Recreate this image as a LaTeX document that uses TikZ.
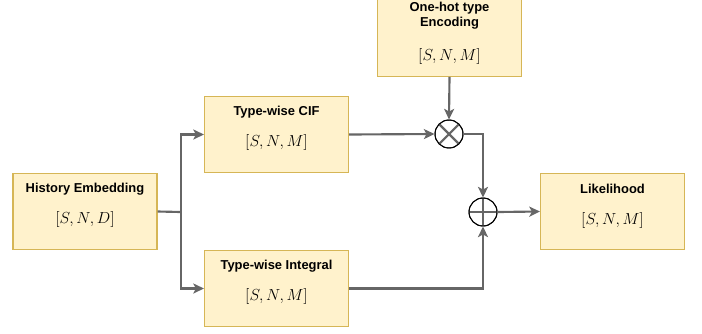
\documentclass[tikz,border=0pt]{standalone}
\usepackage{fontspec}
\setsansfont{Liberation Sans}
\usepackage{amsmath}
\usetikzlibrary{arrows.meta}
\definecolor{boxfill}{HTML}{FFF2CC}
\definecolor{boxline}{HTML}{D6B656}
\definecolor{wire}{HTML}{666666}
\begin{document}
\begin{tikzpicture}[x=0.75pt,y=-0.75pt,
    blk/.style={draw=boxline,fill=boxfill,line width=0.8pt,minimum width=108pt,minimum height=57.5pt,inner sep=0pt},
    ttl/.style={font=\sffamily\bfseries\fontsize{9.7}{11.5}\selectfont,align=center,inner sep=0pt},
    mth/.style={font=\fontsize{12.5}{14}\selectfont,inner sep=0pt},
    op/.style={circle,draw=black,line width=0.7pt,minimum size=21pt,inner sep=0pt},
    wr/.style={draw=wire,line width=1.6pt},
    arr/.style={wr,-{Stealth[length=8pt,width=7.5pt,inset=2pt]}}]
  \useasboundingbox (0,0) rectangle (702,333);
  % boxes
  \node[blk] (hist) at (85,211.5) {};
  \node[ttl] (histT) at (85,189) {History Embedding};
  \node[mth] (histM) at (85,219) {$[S,N,D]$};
  \node[blk] (cif) at (276.5,134.5) {};
  \node[ttl] (cifT) at (276.5,112) {Type-wise CIF};
  \node[mth] (cifM) at (276.5,142) {$[S,N,M]$};
  \node[blk] (intg) at (276.5,288.5) {};
  \node[ttl] (intgT) at (276.5,266) {Type-wise Integral};
  \node[mth] (intgM) at (276.5,296) {$[S,N,M]$};
  \node[blk] (hot) at (449.5,38) {};
  \node[ttl] (hotT) at (449.5,15.5) {One-hot type\\Encoding};
  \node[mth] (hotM) at (449.5,56) {$[S,N,M]$};
  \node[blk] (lik) at (612.5,211.5) {};
  \node[ttl] (likT) at (612.5,189) {Likelihood};
  \node[mth] (likM) at (612.5,220) {$[S,N,M]$};
  % operators
  \node[op] (mul) at (449,134) {};
  \draw[wr] (mul.north west) -- (mul.south east) (mul.north east) -- (mul.south west);
  \node[op] (add) at (483,212) {};
  \draw[wr] (add.north) -- (add.south) (add.west) -- (add.east);
  \node[op] at (mul) {};
  \node[op] at (add) {};
  % wires
  \coordinate (split) at (181,212);
  \draw[wr] (hist.east) -- (split);
  \draw[arr] (split) |- (cif.west);
  \draw[arr] (split) |- (intg.west);
  \draw[arr] (hot.south) -- (mul.north);
  \draw[arr] (cif.east) -- (mul.west);
  \draw[arr] (mul.east) -| (add.north);
  \draw[arr] (intg.east) -| (add.south);
  \draw[arr] (add.east) -- (lik.west);
\end{tikzpicture}
\end{document}
